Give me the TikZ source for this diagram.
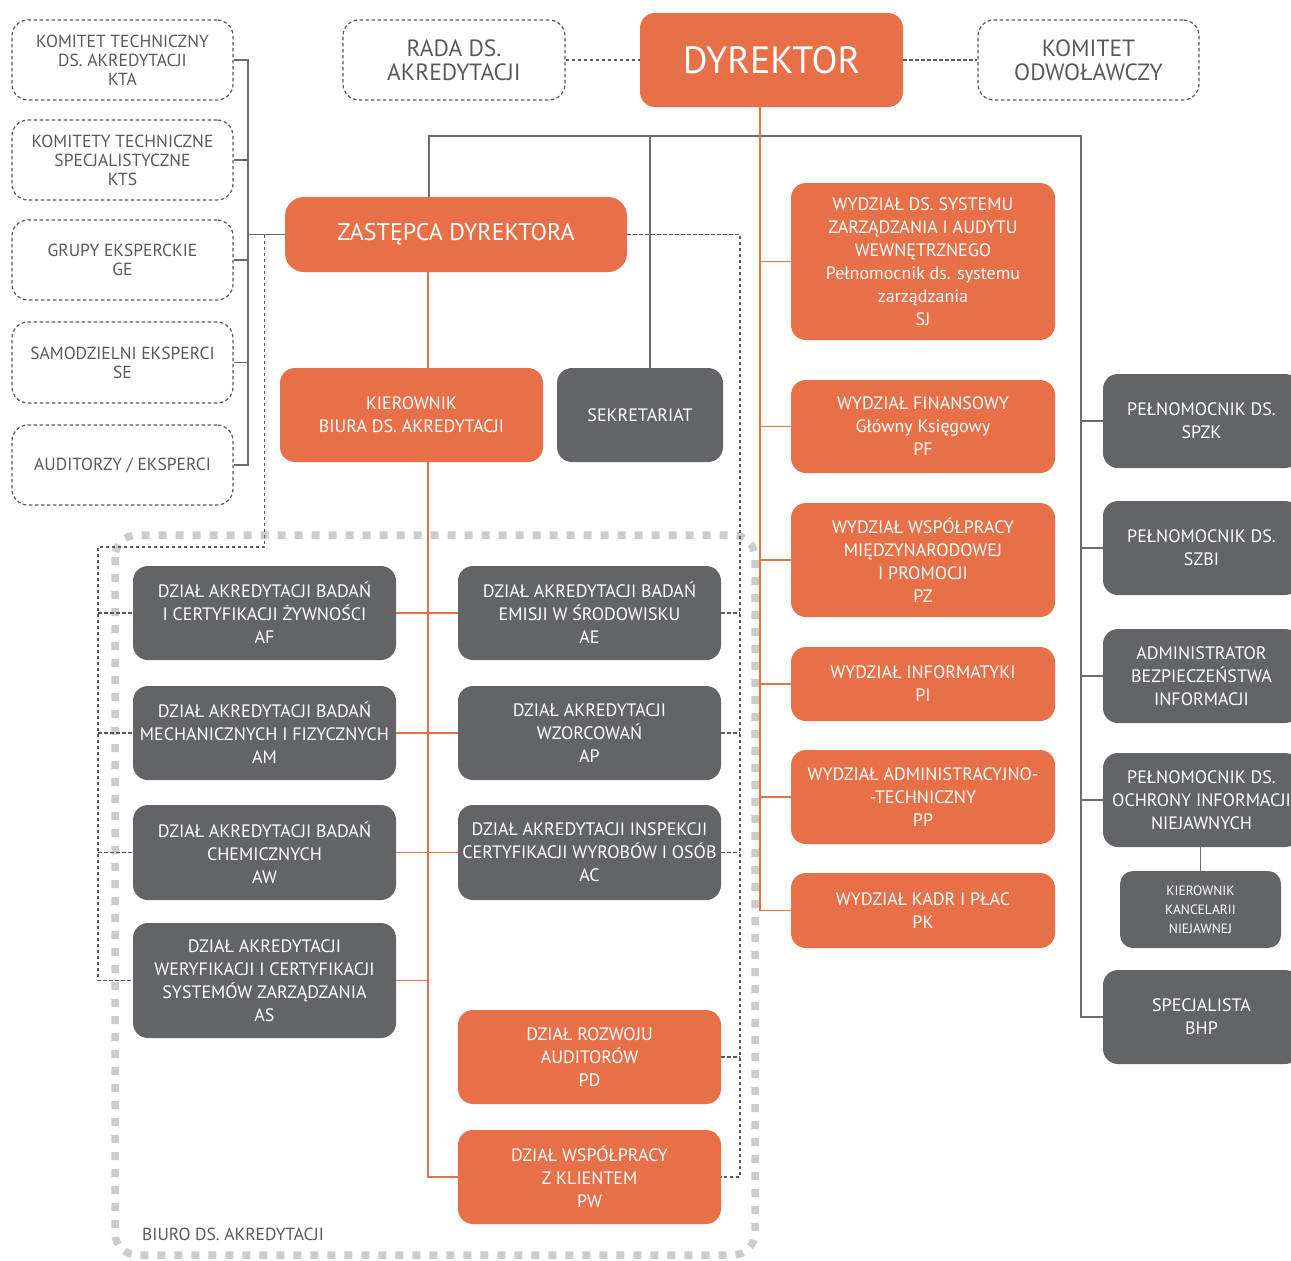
\documentclass[tikz,border=0pt]{standalone}
\usepackage{fontspec}
\setmainfont{PT Sans}
\usetikzlibrary{calc}
\usetikzlibrary{positioning}
\usepackage{xcolor}

\definecolor{orgbox}{RGB}{232,112,73}
\definecolor{grybox}{RGB}{99,100,104}
\definecolor{grytxt}{RGB}{88,89,93}
\definecolor{gryline}{RGB}{106,107,111}
\definecolor{biurogry}{RGB}{204,204,204}

\begin{document}
\begin{tikzpicture}[x=1pt,y=-1pt,
    every node/.style={inner sep=0pt, align=center},
    sz/.style 2 args={minimum width=#1pt, minimum height=#2pt},
    obox/.style={fill=orgbox, text=white, rounded corners=15pt, font=\fontsize{18}{23}\selectfont},
    gbox/.style={fill=grybox, text=white, rounded corners=15pt, font=\fontsize{18}{23}\selectfont},
    dbox/.style={draw=grytxt, line width=1.2pt, dash pattern=on 3.5pt off 2.5pt, rounded corners=16pt, text=grytxt, font=\fontsize{17.5}{19}\selectfont},
    oline/.style={draw=orgbox, line width=1.5pt},
    gline/.style={draw=gryline, line width=1.7pt},
    dline/.style={draw=grytxt, line width=1.2pt, dash pattern=on 3.5pt off 2.5pt},
    biuro/.style={draw=biurogry, line width=7.5pt, dash pattern=on 8pt off 9pt, rounded corners=22pt},
  ]

      \useasboundingbox (0,0) rectangle (1291,1261);

      % Biuro frame
      \draw[biuro] (115,535) rectangle (755,1255);
      \node[anchor=west, text=grytxt, font=\fontsize{17.5}{20}\selectfont] (biurolbl) at (142,1234) {BIURO DS. AKREDYTACJI};

      % Top row
      \node[obox, sz={263}{94}, font=\fontsize{38}{40}\selectfont] (dyr) at (771.5,60) {DYREKTOR};
      \node[dbox, sz={222}{80}, font=\fontsize{23.5}{24}\selectfont] (rada) at (454,60) {RADA DS.\\AKREDYTACJI};
      \node[dbox, sz={221}{80}, font=\fontsize{23.5}{24}\selectfont] (odw) at (1088.5,60) {KOMITET\\ODWOŁAWCZY};

      % Committees on the left
      \node[dbox, sz={221}{80}] (kta) at (122.5,60) {KOMITET TECHNICZNY\\DS. AKREDYTACJI\\KTA};
      \node[dbox, sz={221}{80}] (kts) at (122.5,160) {KOMITETY TECHNICZNE\\SPECJALISTYCZNE\\KTS};
      \node[dbox, sz={221}{80}] (ge) at (122.5,260) {GRUPY EKSPERCKIE\\GE};
      \node[dbox, sz={221}{81}] (se) at (122.5,362.5) {SAMODZIELNI EKSPERCI\\SE};
      \node[dbox, sz={221}{80}] (aud) at (122.5,465) {AUDITORZY / EKSPERCI};

      % Deputy, head of office, secretariat
      \node[obox, sz={342}{75}, rounded corners=19pt, font=\fontsize{24}{26}\selectfont] (zd) at (456,234.5) {ZASTĘPCA DYREKTORA};
      \node[obox, sz={263}{94}] (kier) at (411.5,415) {KIEROWNIK\\BIURA DS. AKREDYTACJI};
      \node[gbox, sz={166}{94}] (sek) at (640,415) {SEKRETARIAT};

      % Departments under the director
      \node[obox, sz={264}{157}] (sj) at (923,261.5) {WYDZIAŁ DS. SYSTEMU\\ZARZĄDZANIA I AUDYTU\\WEWNĘTRZNEGO\\Pełnomocnik ds. systemu\\zarządzania\\SJ};
      \node[obox, sz={264}{93}] (pf) at (923,426.5) {WYDZIAŁ FINANSOWY\\Główny Księgowy\\PF};
      \node[obox, sz={264}{114}] (pz) at (923,560) {WYDZIAŁ WSPÓŁPRACY\\MIĘDZYNARODOWEJ\\I PROMOCJI\\PZ};
      \node[obox, sz={264}{74}] (pi) at (923,684) {WYDZIAŁ INFORMATYKI\\PI};
      \node[obox, sz={264}{94}] (pp) at (923,797) {WYDZIAŁ ADMINISTRACYJNO-\\-TECHNICZNY\\PP};
      \node[obox, sz={264}{75}] (pk) at (923,910.5) {WYDZIAŁ KADR I PŁAC\\PK};

      % Plenipotentiaries on the right
      \node[gbox, sz={197}{94}] (spzk) at (1201.5,421) {PEŁNOMOCNIK DS.\\SPZK};
      \node[gbox, sz={197}{94}] (szbi) at (1201.5,548) {PEŁNOMOCNIK DS.\\SZBI};
      \node[gbox, sz={197}{94}] (abi) at (1201.5,676) {ADMINISTRATOR\\BEZPIECZEŃSTWA\\INFORMACJI};
      \node[gbox, sz={197}{94}] (poin) at (1201.5,800) {PEŁNOMOCNIK DS.\\OCHRONY INFORMACJI\\NIEJAWNYCH};
      \node[gbox, sz={161}{77}, rounded corners=13pt, font=\fontsize{13.5}{19}\selectfont] (kkn) at (1200.5,909.5) {KIEROWNIK\\KANCELARII\\NIEJAWNEJ};
      \node[gbox, sz={197}{94}] (bhp) at (1201.5,1017) {SPECJALISTA\\BHP};

      % Accreditation office departments
      \node[gbox, sz={263}{94}] (af) at (264.5,613) {DZIAŁ AKREDYTACJI BADAŃ\\I CERTYFIKACJI ŻYWNOŚCI\\AF};
      \node[gbox, sz={263}{94}] (am) at (264.5,733) {DZIAŁ AKREDYTACJI BADAŃ\\MECHANICZNYCH I FIZYCZNYCH\\AM};
      \node[gbox, sz={263}{95}] (aw) at (264.5,852.5) {DZIAŁ AKREDYTACJI BADAŃ\\CHEMICZNYCH\\AW};
      \node[gbox, sz={263}{115}] (as) at (264.5,980.5) {DZIAŁ AKREDYTACJI\\WERYFIKACJI I CERTYFIKACJI\\SYSTEMÓW ZARZĄDZANIA\\AS};
      \node[gbox, sz={263}{94}] (ae) at (589.5,613) {DZIAŁ AKREDYTACJI BADAŃ\\EMISJI W ŚRODOWISKU\\AE};
      \node[gbox, sz={263}{94}] (ap) at (589.5,733) {DZIAŁ AKREDYTACJI\\WZORCOWAŃ\\AP};
      \node[gbox, sz={263}{95}] (ac) at (589.5,852.5) {DZIAŁ AKREDYTACJI INSPEKCJI\\CERTYFIKACJI WYROBÓW I OSÓB\\AC};
      \node[obox, sz={263}{94}] (pd) at (589.5,1057) {DZIAŁ ROZWOJU\\AUDITORÓW\\PD};
      \node[obox, sz={263}{94}] (pw) at (589.5,1177) {DZIAŁ WSPÓŁPRACY\\Z KLIENTEM\\PW};

      % Left bracket
      \coordinate (brk) at (248,0);
      \draw[gline] (kta.east) -- (kta.east -| brk) -- (aud.east -| brk) -- (aud.east);
      \foreach \n in {kts,ge,se}
        \draw[gline] (\n.east) -- (\n.east -| brk);
      \draw[gline] (zd.west) -- (zd.west -| brk);

      % Grey bus
      \coordinate (busL) at (429,136);
      \coordinate (busS) at (650,136);
      \coordinate (busR) at (1081,136);
      \draw[gline] (zd.north -| busL) -- (busL) -- (busR) -- (bhp.west -| busR) -- (bhp.west);
      \draw[gline] (busS) -- (sek.north -| busS);
      \foreach \n in {spzk,szbi,abi,poin}
        \draw[gline] (\n.west -| busR) -- (\n.west);
      \draw[gline] (poin.south -| kkn.north) -- (kkn.north);

      % Orange spine of the director
      \coordinate (spine) at (760,0);
      \draw[oline] (dyr.south -| spine) -- (pk.west -| spine) -- (pk.west);
      \foreach \n in {sj,pf,pz,pi,pp}
        \draw[oline] (\n.west -| spine) -- (\n.west);

      % Orange trunk of the office
      \coordinate (trunk) at (428,0);
      \draw[oline] (zd.south -| trunk) -- (kier.north -| trunk);
      \draw[oline] (kier.south -| trunk) -- (pw.west -| trunk) -- (pw.west);
      \foreach \n in {af,am,aw,as}
        \draw[oline] (\n.east) -- (\n.east -| trunk);
      \foreach \n in {ae,ap,ac}
        \draw[oline] (\n.west -| trunk) -- (\n.west);

      % Dotted links
      \draw[dline] (rada.east) -- (dyr.west);
      \draw[dline] (dyr.east) -- (odw.west);
      \coordinate (dotR) at (740,0);
      \draw[dline] (zd.east) -- (zd.east -| dotR) -- (pw.east -| dotR) -- (pw.east);
      \foreach \n in {ae,ap,ac,pd}
        \draw[dline] (\n.east) -- (\n.east -| dotR);
      \coordinate (zdtap) at ($(zd.west)+(-20,0)$);
      \coordinate (dotL) at (98,547);
      \draw[dline] (zdtap) -- (zdtap |- dotL) -- (dotL) -- (as.west -| dotL) -- (as.west);
      \foreach \n in {af,am,aw}
        \draw[dline] (\n.west -| dotL) -- (\n.west);

\end{tikzpicture}
\end{document}
